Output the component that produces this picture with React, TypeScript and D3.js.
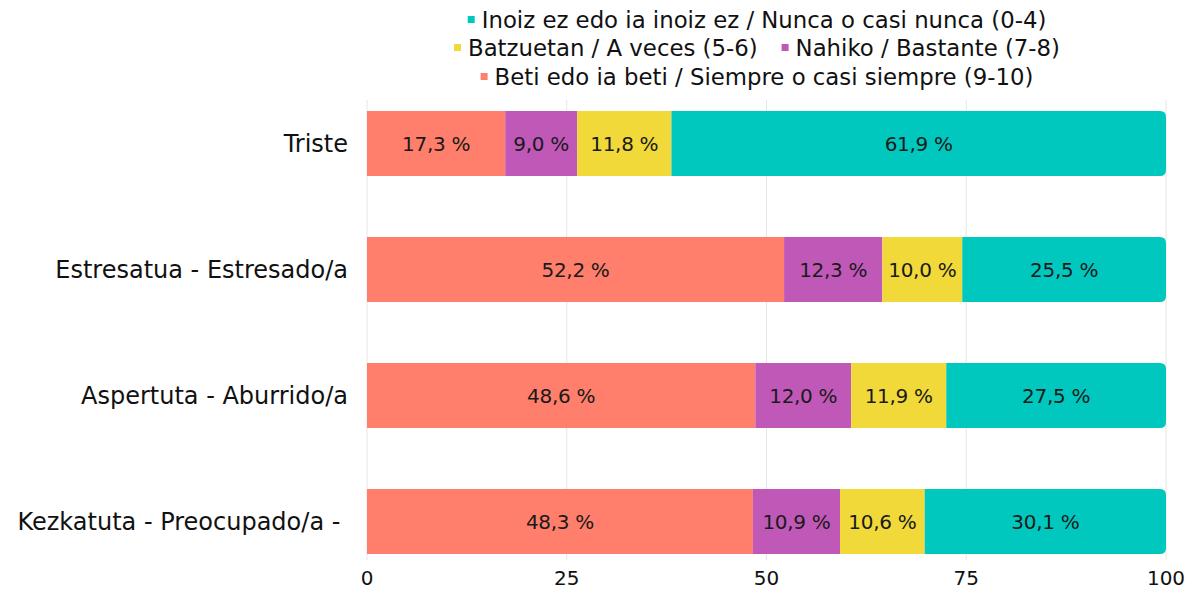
import React from "react";
import * as d3 from "d3";

const categories = ["Triste", "Estresatua - Estresado/a", "Aspertuta - Aburrido/a", "Kezkatuta - Preocupado/a -\u00a0"];
const seriesNames = [
  "Beti edo ia beti / Siempre o casi siempre (9-10)",
  "Nahiko / Bastante (7-8)",
  "Batzuetan / A veces (5-6)",
  "Inoiz ez edo ia inoiz ez / Nunca o casi nunca (0-4)",
];
const siempre = [17.3, 52.2, 48.6, 48.3];
const bastante = [9.0, 12.3, 12.0, 10.9];
const aveces = [11.8, 10.0, 11.9, 10.6];
const nunca = [61.9, 25.5, 27.5, 30.1];
const colors = ["#FF7F6C", "#C058B8", "#F1D93A", "#00C8BE"];
const ticks = [0, 25, 50, 75, 100];

const W = 1192, H = 590;
const FONT = "'DejaVu Sans', sans-serif";

export default function App() {
  const x = d3.scaleLinear().domain([0, 100]).range([367, 1166]);
  const y = d3.scaleBand().domain(categories).range([111, 554]).paddingInner(0.484).paddingOuter(0);
  const series = [siempre, bastante, aveces, nunca];
  const r = 6;
  const fmt = (v: number) => v.toFixed(1).replace(".", ",") + " %";

  const roundedRight = (x0: number, x1: number, y0: number, h: number) => {
    const p = d3.path();
    p.moveTo(x0, y0);
    p.lineTo(x1 - r, y0);
    p.quadraticCurveTo(x1, y0, x1, y0 + r);
    p.lineTo(x1, y0 + h - r);
    p.quadraticCurveTo(x1, y0 + h, x1 - r, y0 + h);
    p.lineTo(x0, y0 + h);
    p.closePath();
    return p.toString();
  };

  const legendRows = [[3], [2, 1], [0]];
  const legendY = [20, 48, 77];
  const LF = 22.8;
  const ctx = typeof document !== "undefined" ? document.createElement("canvas").getContext("2d") : null;
  const measure = (s: string, size: number) => {
    if (!ctx) return s.length * size * 0.6;
    ctx.font = `${size}px ${FONT}`;
    return ctx.measureText(s).width;
  };

  return (
    <svg width={W} height={H} style={{ position: "absolute", left: 0, top: 0, background: "#fff" }} fontFamily={FONT}>
      {ticks.map((t) => (
        <line key={t} x1={x(t)} x2={x(t)} y1={100} y2={560} stroke="#e6e6e6" strokeWidth={1} />
      ))}
      {categories.map((c, i) => {
        let acc = 0;
        const y0 = y(c)!;
        const h = y.bandwidth();
        return (
          <g key={c}>
            {series.map((s, k) => {
              const a = acc;
              acc += s[i];
              const last = k === series.length - 1;
              const x0 = x(a), x1 = last ? x(100) : x(acc);
              return (
                <g key={k}>
                  {last ? (
                    <path d={roundedRight(x0, x1, y0, h)} fill={colors[k]} />
                  ) : (
                    <rect x={x0} y={y0} width={x1 - x0} height={h} fill={colors[k]} />
                  )}
                  <text x={(x0 + x1) / 2} y={y0 + h / 2} dy="0.36em" textAnchor="middle" fontSize={20} letterSpacing={-0.3} fill="#1a1a1a">
                    {fmt(s[i])}
                  </text>
                </g>
              );
            })}
            <text x={348} y={y0 + h / 2} dy="0.36em" textAnchor="end" fontSize={24} fill="#111" style={{ whiteSpace: "pre" }}>
              {c}
            </text>
          </g>
        );
      })}
      {ticks.map((t) => (
        <text key={t} x={x(t)} y={578} dy="0.36em" textAnchor="middle" fontSize={20} fill="#111">
          {t}
        </text>
      ))}
      {legendRows.map((row, ri) => {
        const gap = 24;
        const items = row.map((k) => ({ k, w: 14 + measure(seriesNames[k], LF) }));
        const total = items.reduce((s, d) => s + d.w, 0) + gap * (items.length - 1);
        let cx = 757 - total / 2;
        return (
          <g key={ri}>
            {items.map((it) => {
              const gx = cx;
              cx += it.w + gap;
              return (
                <g key={it.k}>
                  <rect x={gx} y={legendY[ri] - 4} width={7} height={7} fill={colors[it.k]} />
                  <text x={gx + 14} y={legendY[ri]} dy="0.36em" fontSize={LF} fill="#111">
                    {seriesNames[it.k]}
                  </text>
                </g>
              );
            })}
          </g>
        );
      })}
    </svg>
  );
}
